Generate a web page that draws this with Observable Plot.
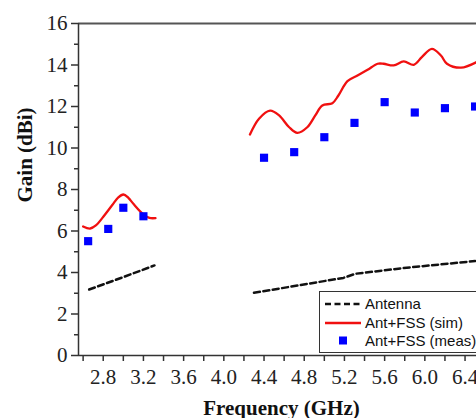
<!DOCTYPE html>
<html>
<head>
<meta charset="utf-8">
<script src="https://cdn.jsdelivr.net/npm/d3@7"></script>
<script src="https://cdn.jsdelivr.net/npm/@observablehq/plot@0.6"></script>
<style>
  html, body { margin: 0; padding: 0; background: #ffffff; overflow: hidden; }
  #wrap { position: relative; width: 476px; height: 418px; overflow: hidden; }
  #legend { position: absolute; left: 319px; top: 291px; width: 200px; height: 60px;
    border: 1px solid #333; background: #fff; font-family: "Liberation Sans", Arial, sans-serif; font-size: 15px; color: #111; }
  #legend .row { position: absolute; left: 0; height: 19px; line-height: 19px; }
  #legend .lbl { position: absolute; left: 45px; white-space: nowrap; }
  #legend svg { position: absolute; left: 4px; top: 0; }
</style>
</head>
<body>
<div id="wrap"></div>
<script>
// ---- data ----
const xLabel = "Frequency (GHz)";
const yLabel = "Gain (dBi)";
const seriesNames = ["Antenna", "Ant+FSS (sim)", "Ant+FSS (meas)"];

// Antenna alone (dashed), two measured bands
const antFreq1 = [2.66, 3.00, 3.31];
const antGain1 = [3.18, 3.78, 4.34];
const antFreq2 = [4.30, 4.83, 5.19, 5.31, 5.82, 6.50];
const antGain2 = [3.02, 3.45, 3.74, 3.94, 4.23, 4.55];

// Ant+FSS simulated (red), two bands
const simFreq1 = [2.60, 2.67, 2.73, 2.79, 2.89, 2.95, 3.00, 3.05, 3.10, 3.20, 3.26, 3.32];
const simGain1 = [6.22, 6.12, 6.28, 6.62, 7.25, 7.62, 7.76, 7.60, 7.31, 6.80, 6.63, 6.62];
const simFreq2 = [4.26, 4.35, 4.46, 4.55, 4.65, 4.73, 4.83, 4.91, 4.98, 5.08, 5.14, 5.23, 5.33, 5.43, 5.53, 5.59, 5.69, 5.79, 5.89, 5.97, 6.07, 6.16, 6.22, 6.36, 6.51];
const simGain2 = [10.65, 11.41, 11.80, 11.57, 11.00, 10.73, 11.00, 11.57, 12.05, 12.16, 12.53, 13.22, 13.49, 13.77, 14.06, 14.06, 13.98, 14.17, 14.01, 14.38, 14.78, 14.46, 14.06, 13.87, 14.13];

// Ant+FSS measured (blue squares)
const measFreq = [2.65, 2.85, 3.00, 3.20, 4.40, 4.70, 5.00, 5.30, 5.60, 5.90, 6.20, 6.50];
const measGain = [5.51, 6.10, 7.12, 6.71, 9.53, 9.80, 10.52, 11.21, 12.21, 11.71, 11.92, 12.00];

// axis ticks
const yMajor = [0, 2, 4, 6, 8, 10, 12, 14, 16];
const yMinor = [1, 3, 5, 7, 9, 11, 13, 15];
const xLabelTicks = [2.8, 3.2, 3.6, 4.0, 4.4, 4.8, 5.2, 5.6, 6.0, 6.4];
const xMinorTicks = [2.6, 3.0, 3.4, 3.8, 4.2, 4.6, 5.0, 5.4, 5.8, 6.2];
const xDomain = [2.554, 6.514];
const yDomain = [0, 16];

// ---- build tables ----
const mk = (fs, gs, seg) => fs.map((f, i) => ({f, g: gs[i], seg}));
const ant = [...mk(antFreq1, antGain1, 1), ...mk(antFreq2, antGain2, 2)];
const sim = [...mk(simFreq1, simGain1, 1), ...mk(simFreq2, simGain2, 2)];
const meas = mk(measFreq, measGain, 0);

const axisColor = "#333";
const serif = "'Liberation Serif', 'Times New Roman', serif";

const chart = Plot.plot({
  width: 476,
  height: 418,
  marginLeft: 78,
  marginRight: 0,
  marginTop: 23,
  marginBottom: 63,
  style: { fontFamily: serif, fontSize: "21px", background: "#fff", overflow: "visible", color: "#222" },
  x: { domain: xDomain },
  y: { domain: yDomain },
  marks: [
    // frame lines
    Plot.ruleY([yDomain[1]], { stroke: "#555", strokeWidth: 2 }),
    Plot.ruleX([xDomain[0]], { stroke: axisColor, strokeWidth: 1.5 }),
    Plot.ruleY([yDomain[0]], { stroke: axisColor, strokeWidth: 1.5 }),
    // y axis
    Plot.axisY({ ticks: yMajor, tickSize: 7, tickPadding: 4, label: null, stroke: axisColor, strokeWidth: 1.5, fill: "#222", fontSize: 21 }),
    Plot.axisY({ ticks: yMinor, tickSize: 4, text: null, label: null, stroke: axisColor, strokeWidth: 1.5 }),
    // x axis
    Plot.axisX({ ticks: xLabelTicks, tickSize: 6, tickPadding: 8, tickFormat: d3.format(".1f"), label: null, stroke: axisColor, strokeWidth: 1.5, fill: "#222", fontSize: 21 }),
    Plot.axisX({ ticks: xMinorTicks, tickSize: 6, text: null, label: null, stroke: axisColor, strokeWidth: 1.5 }),
    // axis titles
    Plot.text([xLabel], { frameAnchor: "bottom", dx: 4, dy: 53, text: d => d, fontWeight: "bold", fontSize: 21, fill: "#111", lineAnchor: "middle" }),
    Plot.text([yLabel], { frameAnchor: "left", dx: -53, dy: 13, rotate: -90, text: d => d, fontWeight: "bold", fontSize: 21, fill: "#111", lineAnchor: "middle" }),
    // data
    Plot.line(ant, { x: "f", y: "g", z: "seg", stroke: "#111", strokeWidth: 2.5, strokeDasharray: "6,3.5", clip: true }),
    Plot.line(sim, { x: "f", y: "g", z: "seg", stroke: "#f01010", strokeWidth: 2.3, curve: "catmull-rom", clip: true }),
    Plot.dot(meas, { x: "f", y: "g", symbol: "square", r: 4.6, fill: "#0000ff", stroke: "none", clip: true })
  ]
});

const wrap = document.getElementById("wrap");
wrap.appendChild(chart);

// legend (inside plot, lower right)
const legend = document.createElement("div");
legend.id = "legend";
const rows = [
  { name: seriesNames[0], top: 2, kind: "dash" },
  { name: seriesNames[1], top: 21, kind: "line" },
  { name: seriesNames[2], top: 39, kind: "square" }
];
for (const r of rows) {
  const row = document.createElement("div");
  row.className = "row";
  row.style.top = r.top + "px";
  row.style.width = "200px";
  let sym = "";
  if (r.kind === "dash") sym = `<svg width="38" height="19"><line x1="1" x2="37" y1="10" y2="10" stroke="#111" stroke-width="2.5" stroke-dasharray="6,3.5"/></svg>`;
  if (r.kind === "line") sym = `<svg width="38" height="19"><line x1="1" x2="37" y1="10" y2="10" stroke="#f01010" stroke-width="2.3"/></svg>`;
  if (r.kind === "square") sym = `<svg width="38" height="19"><rect x="15" y="5.5" width="8" height="8" fill="#0000ff"/></svg>`;
  row.innerHTML = sym + `<span class="lbl">${r.name}</span>`;
  legend.appendChild(row);
}
wrap.appendChild(legend);
</script>
</body>
</html>
